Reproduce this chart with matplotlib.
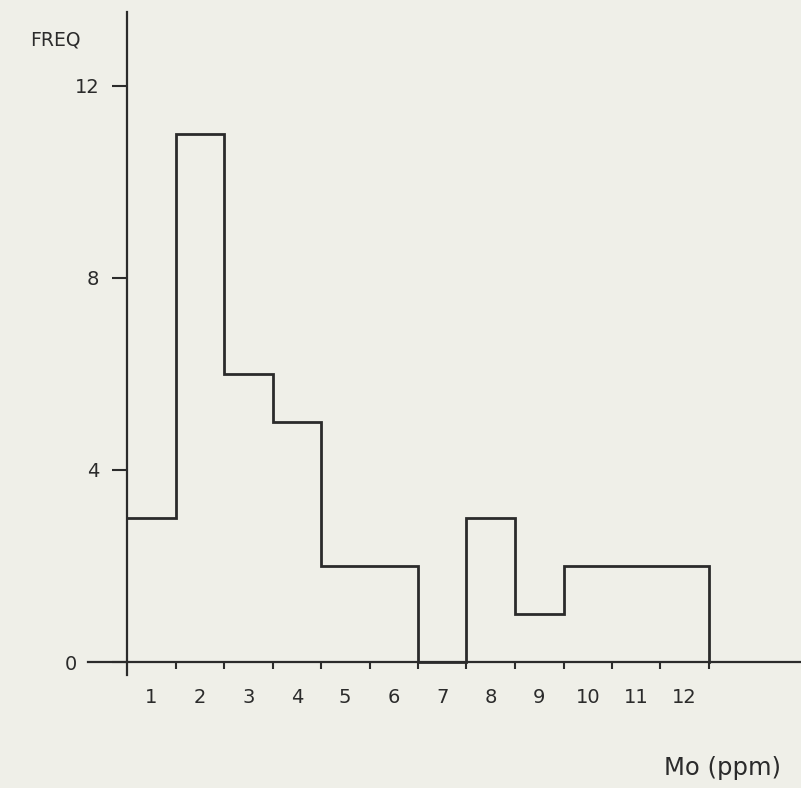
import matplotlib
matplotlib.use("Agg")
import matplotlib.pyplot as plt
import matplotlib.transforms as mtransforms
import numpy as np

# Data
bin_labels = ["1", "2", "3", "4", "5", "6", "7", "8", "9", "10", "11", "12"]
freq = [3, 11, 6, 5, 2, 2, 0, 3, 1, 2, 2, 2]
y_ticks = [0, 4, 8, 12]

W, H = 801, 788
fig = plt.figure(figsize=(W / 100, H / 100), dpi=100)
bg = "#efefe8"
fig.patch.set_facecolor(bg)
ax = fig.add_axes([0, 0, 1, 1])
ax.set_facecolor(bg)

# pixel mapping: x0 = 127 px, 48.5 px per bin; y0 = 662 px from top, 48 px per unit
x0, dx = 127, 48.5
y0, dy = 662, 48
ax.set_xlim(-x0 / dx, (W - x0) / dx)
ax.set_ylim((y0 - H) / dy, y0 / dy)

ink = "#2b2b2b"
n = len(freq)
edges = np.arange(n + 1)
centers = edges[:-1] + 0.5

# histogram outline
xs = [edges[0]]
ys = [freq[0]]
for i, v in enumerate(freq):
    xs += [edges[i], edges[i + 1]]
    ys += [v, v]
xs.append(edges[-1])
ys.append(0)
ax.plot(xs, ys, color=ink, lw=2.0, solid_joinstyle="miter", zorder=3)

# spines as axis lines
for s in ["top", "right"]:
    ax.spines[s].set_visible(False)
ax.spines["left"].set_position(("data", 0))
ax.spines["bottom"].set_position(("data", 0))
ax.spines["left"].set_bounds(-13 / dy, (y0 - 12) / dy)
ax.spines["bottom"].set_bounds((88 - x0) / dx, (W - x0) / dx)
for s in ["left", "bottom"]:
    ax.spines[s].set_color(ink)
    ax.spines[s].set_linewidth(1.6)

# y ticks
ax.set_yticks(y_ticks)
ax.set_yticklabels([str(t) for t in y_ticks])
ax.tick_params(axis="y", direction="out", length=11, width=1.5, color=ink,
               labelsize=14, labelcolor=ink, pad=9)
# the "0" label sits left of the extended x-axis line
lab0 = ax.get_yticklabels()[0]
lab0.set_transform(lab0.get_transform() +
                   mtransforms.ScaledTranslation(-22 / 100, 0, fig.dpi_scale_trans))

# x ticks: marks at bin edges, labels at centers
ax.set_xticks(edges[1:])
ax.set_xticklabels([])
ax.tick_params(axis="x", which="major", direction="out", length=5, width=1.5, color=ink)
ax.set_xticks(centers, minor=True)
ax.set_xticklabels(bin_labels, minor=True)
ax.tick_params(axis="x", which="minor", length=0, labelsize=14, labelcolor=ink, pad=19)

fig.text(55 / W, 1 - 40 / H, "FREQ", fontsize=13.5, color=ink, ha="center", va="center",
         fontweight="medium")
fig.text(722 / W, 1 - 768 / H, "Mo (ppm)", fontsize=17.5, color=ink, ha="center", va="center")

fig.savefig("out.png", dpi=100, facecolor=bg)
